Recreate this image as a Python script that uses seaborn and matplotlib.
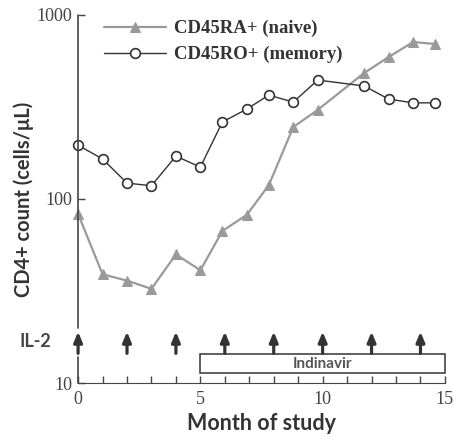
import numpy as np
import pandas as pd
import matplotlib
matplotlib.use("Agg")
import matplotlib.pyplot as plt
import seaborn as sns
from matplotlib.patches import Rectangle

months = [0, 1, 2, 3, 4, 5, 5.9, 6.9, 7.8, 8.8, 9.8, 11.7, 12.7, 13.7, 14.6]
naive = [83, 39, 36, 32.5, 50, 41, 67, 82, 119, 246, 305, 484, 591, 713, 695]
memory = [196, 165, 122, 118, 171, 149, 262, 308, 367, 336, 443, 411, 349, 333, 333]
il2_months = [0, 2, 4, 6, 8, 10, 12, 14]
indinavir_span = (5, 15)

SERIF = ["Liberation Serif", "DejaVu Serif"]
SANS = ["Lato", "DejaVu Sans"]

sns.set_style("ticks")
plt.rcParams["font.family"] = SERIF

df = pd.DataFrame({"month": months, "naive": naive, "memory": memory})

fig = plt.figure(figsize=(4.54, 4.40), dpi=100)
ax = fig.add_axes([0.172, 0.1295, 0.808, 0.8365])

sns.lineplot(data=df, x="month", y="naive", ax=ax, color="#9a9a9a", lw=1.6,
             marker="^", markersize=7, markeredgecolor="#9a9a9a",
             markerfacecolor="#9a9a9a", label="CD45RA+ (naive)", clip_on=False)
sns.lineplot(data=df, x="month", y="memory", ax=ax, color="#333333", lw=1.0,
             marker="o", markersize=7, markeredgecolor="#333333",
             markerfacecolor="white", markeredgewidth=1.2,
             label="CD45RO+ (memory)", clip_on=False)

ax.set_yscale("log")
ax.set_ylim(10, 1000)
ax.set_xlim(0, 15)
ax.set_yticks([10, 100, 1000])
ax.set_yticklabels(["10", "100", "1000"])
ax.minorticks_off()
ax.set_xticks(range(0, 16))
ax.set_xticklabels([str(m) if m % 5 == 0 else "" for m in range(0, 16)])
ax.tick_params(axis="both", direction="in", length=5, width=1, color="#444444",
               labelsize=13, labelcolor="#444444", pad=4)
ax.tick_params(axis="x", pad=6)

for s in ["top", "right"]:
    ax.spines[s].set_visible(False)
ax.spines["bottom"].set_color("#444444")
ax.spines["left"].set_visible(False)
# broken y-axis with the IL-2 arrow in the gap
ax.plot([0, 0], [20, 1000], color="#444444", lw=1.2, clip_on=False)
ax.plot([0, 0], [10, 13.8], color="#444444", lw=1.2, clip_on=False)

# IL-2 arrows
for m in il2_months:
    ax.annotate("", xy=(m, 19.0), xytext=(m, 14.5), annotation_clip=False,
                arrowprops=dict(arrowstyle="-|>,head_length=0.6,head_width=0.25",
                                color="#333333", lw=2.3, shrinkA=0, shrinkB=0),
                zorder=5)
ax.text(-1.1, 16.8, "IL-2", ha="right", va="center", fontsize=13,
        fontweight="bold", color="#444444", family=SANS)

# Indinavir bar
x0, x1 = indinavir_span
ax.add_patch(Rectangle((x0, 11.3), x1 - x0, 14.3 - 11.3, facecolor="white",
                       edgecolor="#444444", lw=1.2, clip_on=False, zorder=3))
ax.text((x0 + x1) / 2, 12.7, "Indinavir", ha="center", va="center",
        fontsize=11, fontweight="bold", color="#555555", family=SANS, zorder=4)

ax.set_xlabel("Month of study", fontsize=15.5, fontweight="bold",
              color="#333333", family=SANS, labelpad=3)
ax.set_ylabel("CD4+ count (cells/\u03bcL)", fontsize=14.5, fontweight="bold",
              color="#333333", family=SANS, labelpad=2)

leg = ax.legend(loc="upper left", bbox_to_anchor=(0.071, 0.986), frameon=False,
                borderpad=0, borderaxespad=0,
                handlelength=3.3, handletextpad=0.4, labelspacing=0.45,
                prop={"family": SERIF, "weight": "bold", "size": 13.5})
for t in leg.get_texts():
    t.set_color("#333333")

fig.savefig("out.png", dpi=100, facecolor="white")
